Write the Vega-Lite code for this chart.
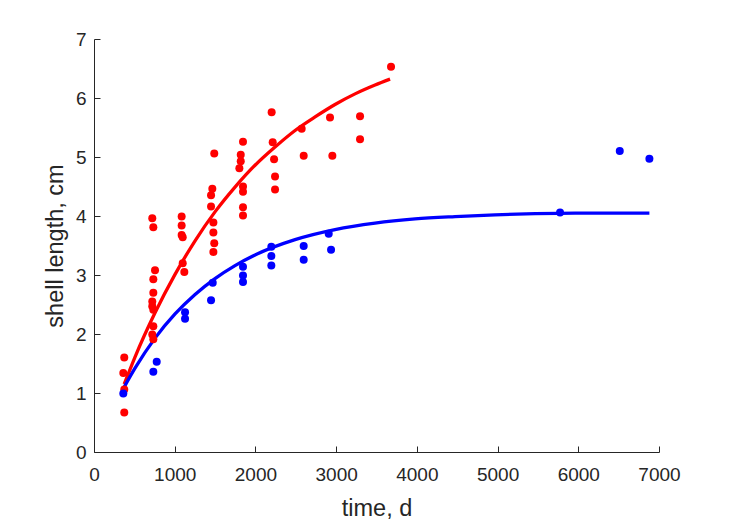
{
  "$schema": "https://vega.github.io/schema/vega-lite/v6.json",
  "autosize": {"type": "none"},
  "padding": {"left": 94, "top": 39, "right": 70, "bottom": 69},
  "width": 565,
  "height": 413,
  "background": "white",
  "config": {
    "view": {"stroke": null},
    "axis": {
      "grid": false,
      "labelFlush": false,
      "domainColor": "#262626",
      "tickColor": "#262626",
      "labelColor": "#262626",
      "titleColor": "#262626",
      "labelFont": "Liberation Sans",
      "titleFont": "Liberation Sans",
      "labelFontSize": 19,
      "titleFontSize": 23.5,
      "titleFontWeight": "normal",
      "tickSize": -6,
      "domainWidth": 1,
      "tickWidth": 1
    }
  },
  "datasets": {
    "points": [
      {"t": 375, "L": 1.60, "g": "red"}, {"t": 363, "L": 1.34, "g": "red"}, {"t": 375, "L": 1.06, "g": "red"}, {"t": 375, "L": 0.67, "g": "red"},
      {"t": 722, "L": 3.96, "g": "red"}, {"t": 735, "L": 3.81, "g": "red"}, {"t": 756, "L": 3.08, "g": "red"}, {"t": 735, "L": 2.93, "g": "red"},
      {"t": 735, "L": 2.70, "g": "red"}, {"t": 722, "L": 2.55, "g": "red"}, {"t": 722, "L": 2.47, "g": "red"}, {"t": 735, "L": 2.41, "g": "red"},
      {"t": 735, "L": 2.13, "g": "red"}, {"t": 722, "L": 1.99, "g": "red"}, {"t": 735, "L": 1.91, "g": "red"},
      {"t": 1086, "L": 3.99, "g": "red"}, {"t": 1086, "L": 3.84, "g": "red"}, {"t": 1086, "L": 3.68, "g": "red"}, {"t": 1099, "L": 3.64, "g": "red"},
      {"t": 1099, "L": 3.20, "g": "red"}, {"t": 1119, "L": 3.05, "g": "red"},
      {"t": 1450, "L": 4.16, "g": "red"}, {"t": 1479, "L": 3.89, "g": "red"}, {"t": 1479, "L": 3.72, "g": "red"}, {"t": 1490, "L": 3.54, "g": "red"},
      {"t": 1479, "L": 3.39, "g": "red"}, {"t": 1466, "L": 4.46, "g": "red"}, {"t": 1450, "L": 4.35, "g": "red"}, {"t": 1490, "L": 5.06, "g": "red"},
      {"t": 1846, "L": 5.26, "g": "red"}, {"t": 1818, "L": 5.04, "g": "red"}, {"t": 1818, "L": 4.93, "g": "red"}, {"t": 1801, "L": 4.81, "g": "red"},
      {"t": 1846, "L": 4.50, "g": "red"}, {"t": 1846, "L": 4.41, "g": "red"}, {"t": 1846, "L": 4.15, "g": "red"}, {"t": 1846, "L": 4.01, "g": "red"},
      {"t": 2201, "L": 5.76, "g": "red"}, {"t": 2214, "L": 5.25, "g": "red"}, {"t": 2231, "L": 4.96, "g": "red"}, {"t": 2243, "L": 4.67, "g": "red"},
      {"t": 2243, "L": 4.45, "g": "red"},
      {"t": 2573, "L": 5.48, "g": "red"}, {"t": 2598, "L": 5.02, "g": "red"}, {"t": 2924, "L": 5.67, "g": "red"}, {"t": 2953, "L": 5.02, "g": "red"},
      {"t": 3296, "L": 5.69, "g": "red"}, {"t": 3296, "L": 5.30, "g": "red"}, {"t": 3680, "L": 6.53, "g": "red"},
      {"t": 363, "L": 0.99, "g": "blue"}, {"t": 735, "L": 1.36, "g": "blue"}, {"t": 777, "L": 1.53, "g": "blue"},
      {"t": 1128, "L": 2.37, "g": "blue"}, {"t": 1128, "L": 2.26, "g": "blue"}, {"t": 1450, "L": 2.57, "g": "blue"}, {"t": 1471, "L": 2.87, "g": "blue"},
      {"t": 1846, "L": 3.14, "g": "blue"}, {"t": 1846, "L": 2.99, "g": "blue"}, {"t": 1846, "L": 2.88, "g": "blue"},
      {"t": 2197, "L": 3.48, "g": "blue"}, {"t": 2197, "L": 3.32, "g": "blue"}, {"t": 2197, "L": 3.16, "g": "blue"},
      {"t": 2598, "L": 3.49, "g": "blue"}, {"t": 2598, "L": 3.26, "g": "blue"}, {"t": 2908, "L": 3.70, "g": "blue"}, {"t": 2937, "L": 3.43, "g": "blue"},
      {"t": 5774, "L": 4.06, "g": "blue"}, {"t": 6514, "L": 5.10, "g": "blue"}, {"t": 6881, "L": 4.97, "g": "blue"}
    ],
    "fits": [
      {"t": 374, "L": 1.15, "g": "red"}, {"t": 508, "L": 1.61, "g": "red"}, {"t": 756, "L": 2.36, "g": "red"}, {"t": 1004, "L": 3.01, "g": "red"},
      {"t": 1252, "L": 3.58, "g": "red"}, {"t": 1499, "L": 4.07, "g": "red"}, {"t": 1747, "L": 4.49, "g": "red"}, {"t": 1995, "L": 4.86, "g": "red"},
      {"t": 2243, "L": 5.17, "g": "red"}, {"t": 2491, "L": 5.45, "g": "red"}, {"t": 2739, "L": 5.68, "g": "red"}, {"t": 2986, "L": 5.89, "g": "red"},
      {"t": 3234, "L": 6.07, "g": "red"}, {"t": 3482, "L": 6.22, "g": "red"}, {"t": 3668, "L": 6.32, "g": "red"},
      {"t": 374, "L": 1.10, "g": "blue"}, {"t": 508, "L": 1.42, "g": "blue"}, {"t": 756, "L": 1.93, "g": "blue"}, {"t": 1004, "L": 2.34, "g": "blue"},
      {"t": 1252, "L": 2.67, "g": "blue"}, {"t": 1499, "L": 2.94, "g": "blue"}, {"t": 1747, "L": 3.16, "g": "blue"}, {"t": 1995, "L": 3.34, "g": "blue"},
      {"t": 2491, "L": 3.60, "g": "blue"}, {"t": 2986, "L": 3.77, "g": "blue"}, {"t": 3482, "L": 3.88, "g": "blue"}, {"t": 3978, "L": 3.95, "g": "blue"},
      {"t": 4473, "L": 3.99, "g": "blue"}, {"t": 4969, "L": 4.02, "g": "blue"}, {"t": 5465, "L": 4.04, "g": "blue"}, {"t": 5960, "L": 4.05, "g": "blue"},
      {"t": 6456, "L": 4.05, "g": "blue"}, {"t": 6881, "L": 4.05, "g": "blue"}
    ]
  },
  "encoding": {
    "x": {
      "field": "t", "type": "quantitative",
      "scale": {"domain": [0, 7000], "nice": false, "zero": false},
      "axis": {"title": "time, d", "format": "d", "values": [0, 1000, 2000, 3000, 4000, 5000, 6000, 7000], "labelPadding": 19, "titlePadding": 12}
    },
    "y": {
      "field": "L", "type": "quantitative",
      "scale": {"domain": [0, 7], "nice": false, "zero": false},
      "axis": {"title": "shell length, cm", "format": "d", "values": [0, 1, 2, 3, 4, 5, 6, 7], "labelPadding": 14, "titlePadding": 8}
    },
    "color": {
      "field": "g", "type": "nominal",
      "scale": {"domain": ["red", "blue"], "range": ["#ff0000", "#0000ff"]},
      "legend": null
    }
  },
  "layer": [
    {
      "data": {"name": "fits"},
      "mark": {"type": "line", "strokeWidth": 3.3, "interpolate": "monotone", "clip": true},
      "encoding": {"detail": {"field": "g"}}
    },
    {
      "data": {"name": "points"},
      "mark": {"type": "circle", "size": 64, "opacity": 1}
    }
  ]
}
